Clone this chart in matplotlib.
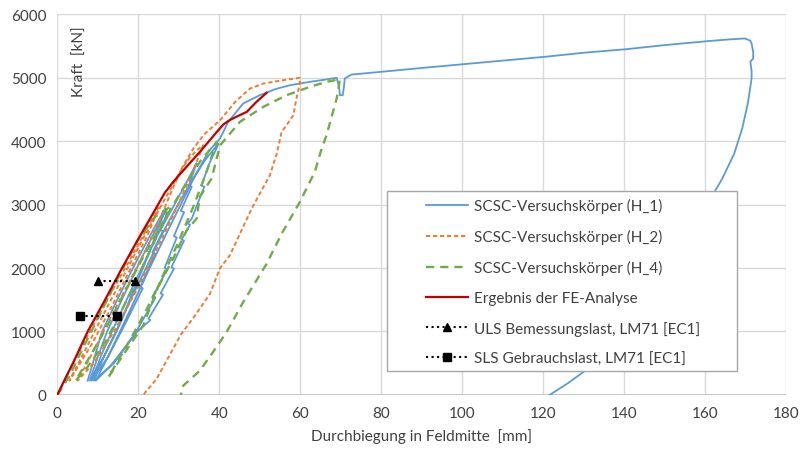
import matplotlib
matplotlib.use("Agg")
import matplotlib.pyplot as plt
from matplotlib.patches import Rectangle

# Versuchskörper H_1 (Durchbiegung [mm], Kraft [kN])
h1_x = [7.5, 9.0, 11.0, 14.8, 18.8, 22.8, 26.6,
        26.3, 24.5, 21.5, 18.5, 15.0, 11.5, 8.0,
        10.0, 12.3, 16.3, 20.0, 23.5, 27.0,
        26.8, 25.5, 26.1, 23.5, 24.1, 20.5, 21.1, 17.0, 12.5, 8.5,
        11.0, 13.5, 17.5, 21.2, 25.0, 28.5, 31.5, 34.4,
        34.0, 32.5, 33.2, 30.5, 31.3, 28.8, 29.5, 26.5, 27.2, 23.5, 24.2, 19.5, 14.0, 9.0,
        11.8, 14.5, 18.5, 22.3, 26.0, 29.8, 33.0, 36.5, 39.8,
        39.3, 37.7, 35.6, 36.3, 33.2, 32.2, 32.8, 30.7, 31.3, 28.2, 28.8, 25.5, 26.1,
        22.5, 23.0, 19.6, 16.5, 13.0, 9.5,
        12.5, 15.5, 19.5, 23.2, 27.0, 30.5, 34.0, 37.5, 40.2, 42.2, 45.9, 50.0, 54.0,
        57.5, 62.4, 66.0, 69.0, 69.6, 69.8, 70.5, 70.8, 71.0, 72.7, 80.1, 90.0, 100.3,
        110.0, 120.4, 130.0, 140.6, 150.0, 160.7, 166.0, 169.8, 171.2, 171.5, 171.9,
        171.9, 171.2, 171.5, 171.5, 170.6, 169.2, 167.2, 164.2, 160.5, 155.5, 150.0,
        145.0, 140.0, 135.0, 130.3, 126.0, 121.6]
h1_y = [226, 550, 990, 1500, 2014, 2500, 2934,
        2850, 2550, 2050, 1600, 1050, 600, 226,
        600, 1000, 1550, 2050, 2500, 2934,
        2800, 2600, 2580, 2250, 2230, 1700, 1680, 1150, 600, 226,
        650, 1000, 1550, 2050, 2550, 2950, 3300, 3650,
        3580, 3300, 3280, 2900, 2880, 2500, 2480, 2000, 1980, 1550, 1530, 1000, 500, 226,
        650, 1000, 1550, 2050, 2550, 3000, 3350, 3700, 3960,
        3880, 3670, 3300, 3280, 2776, 2700, 2680, 2450, 2430, 2014, 1990, 1600, 1580,
        1200, 1180, 990, 730, 450, 226,
        600, 1000, 1550, 2050, 2550, 3000, 3450, 3850, 4038, 4301, 4590, 4721, 4820,
        4879, 4932, 4965, 4995, 4850, 4721, 4721, 4850, 4984, 5047, 5090, 5150, 5210,
        5265, 5326, 5390, 5446, 5510, 5573, 5600, 5615, 5580, 5536, 5400,
        5300, 5247, 5100, 4984, 4600, 4200, 3800, 3400, 3000, 2550, 2100,
        1650, 1250, 800, 378, 180, 0]

# Versuchskörper H_2
h2_x = [0.0, 2.0, 4.0, 8.5, 13.0, 17.5, 21.5, 25.0,
        24.6, 22.0, 18.0, 13.5, 8.5, 3.0,
        6.0, 10.0, 14.5, 19.0, 23.0, 26.0, 28.5, 30.3, 32.5, 34.4, 36.0,
        35.6, 33.0, 29.5, 25.0, 20.0, 14.0, 9.0, 5.0,
        9.0, 13.0, 17.5, 22.0, 25.5, 28.5, 31.0, 33.6, 36.2, 40.2, 44.0, 47.6, 50.9,
        55.0, 59.9,
        59.9, 59.0, 58.3, 56.6, 55.4, 54.2, 52.5, 50.0, 48.0, 45.5, 42.6, 40.2, 37.7,
        34.0, 30.5, 27.5, 24.5, 21.2]
h2_y = [0, 250, 520, 1050, 1580, 2080, 2550, 2950,
        2870, 2480, 1980, 1400, 800, 226,
        600, 1100, 1650, 2200, 2680, 3020, 3300, 3513, 3720, 3853, 3932,
        3860, 3450, 2950, 2350, 1700, 1000, 500, 226,
        700, 1200, 1750, 2300, 2800, 3250, 3600, 3880, 4100, 4327, 4620, 4826, 4905,
        4950, 4995,
        4905, 4650, 4405, 4248, 4143, 3800, 3459, 3170, 2934, 2592, 2197, 2000, 1593,
        1250, 950, 600, 252, 0]

# Versuchskörper H_4
h4_x = [0.0, 3.0, 6.0, 10.0, 15.0, 20.0, 24.0, 27.8,
        27.2, 23.5, 18.0, 12.0, 7.0, 4.5,
        8.0, 12.0, 16.5, 21.0, 25.0, 28.5, 32.0, 35.5, 39.4,
        38.8, 36.5, 33.5, 29.5, 25.5, 21.2, 17.0, 12.6,
        16.0, 20.0, 24.5, 29.0, 32.0, 34.4, 35.2, 38.1, 40.2, 45.1, 50.9, 56.6, 62.4,
        66.5, 69.8,
        69.5, 69.0, 66.5, 65.3, 63.6, 59.9, 55.5, 51.7, 45.9, 41.8, 38.5, 35.2, 31.1, 30.5]
h4_y = [0, 300, 700, 1200, 1850, 2450, 2800, 2960,
        2850, 2350, 1600, 850, 400, 226,
        600, 1050, 1600, 2150, 2600, 2980, 3350, 3700, 3986,
        3880, 3450, 2950, 2350, 1800, 1093, 700, 280,
        650, 1100, 1650, 2200, 2600, 2776, 3123, 3407, 3932, 4301, 4538, 4721, 4853,
        4932, 4973,
        4850, 4669, 4090, 3880, 3513, 3039, 2550, 2066, 1462, 989, 680, 383, 147, 0]

# FE-Analyse
fe_x = [0.0, 1.5, 4.0, 7.5, 11.8, 16.0, 20.2, 24.0, 26.5, 28.6, 31.9, 35.2, 37.5,
        39.4, 41.0, 42.6, 44.5, 46.8, 49.2, 51.7]
fe_y = [0, 200, 520, 1000, 1500, 2000, 2480, 2900, 3180, 3355, 3592, 3828, 4000,
        4143, 4260, 4330, 4390, 4459, 4617, 4759]

# Lastniveaus LM71 [EC1]
uls_x = [10.0, 19.2]
uls_y = [1800, 1800]
sls_x = [5.6, 14.8]
sls_y = [1250, 1250]

labels = ["SCSC-Versuchskörper (H_1)", "SCSC-Versuchskörper (H_2)",
          "SCSC-Versuchskörper (H_4)", "Ergebnis der FE-Analyse",
          "ULS Bemessungslast, LM71 [EC1]", "SLS Gebrauchslast, LM71 [EC1]"]

plt.rcParams['font.family'] = ['Lato', 'DejaVu Sans']

fig = plt.figure(figsize=(8.04, 4.52), dpi=100)
ax = fig.add_axes([0.0713, 0.1239, 0.9063, 0.8429])

ax.plot(h1_x, h1_y, color='#5B9BD5', lw=1.3, label=labels[0])
ax.plot(h2_x, h2_y, color='#ED7D31', lw=1.4, dashes=(2.2, 1.4), label=labels[1])
ax.plot(h4_x, h4_y, color='#70AD47', lw=1.7, dashes=(3.5, 2.5), label=labels[2])
ax.plot(fe_x, fe_y, color='#C00000', lw=1.6, label=labels[3])
ax.plot(uls_x, uls_y, color='black', lw=1.5, ls=':', marker='^', ms=6, label=labels[4])
ax.plot(sls_x, sls_y, color='black', lw=1.5, ls=':', marker='s', ms=6, label=labels[5])

ax.set_xlim(0, 180)
ax.set_ylim(0, 6000)
ax.set_xticks(range(0, 181, 20))
ax.set_yticks(range(0, 6001, 1000))
ax.grid(True, color='#D9D9D9', lw=1.0)
ax.set_axisbelow(True)
for s in ax.spines.values():
    s.set_visible(False)
ax.axhline(0, color='#BFBFBF', lw=1.2, zorder=1)
ax.tick_params(length=0, labelsize=11, colors='#404040', pad=8)

ax.set_xlabel('Durchbiegung in Feldmitte  [mm]', fontsize=11, color='#404040', labelpad=6)
ax.text(0.031, 0.877, 'Kraft  [kN]', transform=ax.transAxes, rotation=90,
        ha='center', va='center', fontsize=11, color='#404040')

# Legendenrahmen
box = Rectangle((0.4525, 0.063), 0.480, 0.4724, transform=ax.transAxes,
                facecolor='white', edgecolor='#A6A6A6', lw=1.0, zorder=4)
ax.add_patch(box)
leg = ax.legend(loc='upper left', bbox_to_anchor=(0.506, 0.517), fontsize=11,
                frameon=False, labelspacing=1.04, handlelength=2.75, borderpad=0,
                handletextpad=0.4, borderaxespad=0)
leg.set_zorder(5)
for t in leg.get_texts():
    t.set_color('#404040')

fig.savefig('out.png', dpi=100)
